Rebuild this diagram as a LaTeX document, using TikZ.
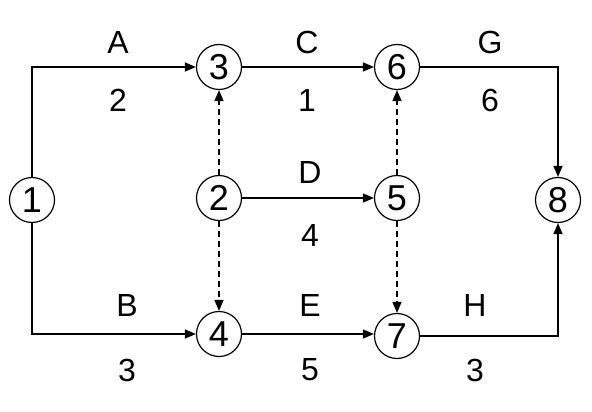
\documentclass[tikz,border=0pt]{standalone}
\usepackage{fontspec}
\setmainfont{Liberation Sans}
\usetikzlibrary{arrows.meta}
\begin{document}
\begin{tikzpicture}[x=1pt,y=-1pt,
  ev/.style={circle,draw,line width=1.2pt,minimum size=45pt,inner sep=0pt,font=\fontsize{36}{36}\selectfont},
  lbl/.style={font=\fontsize{32}{32}\selectfont,inner sep=0pt},
  act/.style={line width=1.4pt,-{Triangle[length=11pt,width=9pt]}},
  dum/.style={act,dash pattern=on 6pt off 4pt}]
\useasboundingbox (0,0) rectangle (592,412);
\node[ev] (n1) at (32,200) {1};
\node[ev] (n3) at (219,67) {3};
\node[ev] (n6) at (397,67) {6};
\node[ev] (n2) at (219,198) {2};
\node[ev] (n5) at (397,198) {5};
\node[ev] (n8) at (558,200) {8};
\node[ev] (n4) at (219,334) {4};
\node[ev] (n7) at (397,336) {7};
\coordinate (cA) at (32,67);
\coordinate (cB) at (32,334);
\coordinate (cG) at (558,67);
\coordinate (cH) at (558,336);
\draw[act] (n1.north) -- (cA) -- (n3.west);
\draw[act] (n1.south) -- (cB) -- (n4.west);
\draw[act] (n3.east) -- (n6.west);
\draw[act] (n2.east) -- (n5.west);
\draw[act] (n4.east) -- (n4.east -| n7.west);
\draw[act] (n6.east) -- (cG) -- (n8.north);
\draw[act] (n7.east) -- (cH) -- (n8.south);
\draw[dum] (n2.north) -- (n3.south);
\draw[dum] (n2.south) -- (n4.north);
\draw[dum] (n5.north) -- (n6.south);
\draw[dum] (n5.south) -- (n7.north);
\node[lbl] (lA) at (118,42) {A};
\node[lbl] (wA) at (118,100) {2};
\node[lbl] (lC) at (307,42) {C};
\node[lbl] (wC) at (307,100) {1};
\node[lbl] (lG) at (490,42) {G};
\node[lbl] (wG) at (490,100) {6};
\node[lbl] (lD) at (310,172) {D};
\node[lbl] (wD) at (310,235) {4};
\node[lbl] (lB) at (127,305) {B};
\node[lbl] (wB) at (127,370) {3};
\node[lbl] (lE) at (310,305) {E};
\node[lbl] (wE) at (310,370) {5};
\node[lbl] (lH) at (475,305) {H};
\node[lbl] (wH) at (475,370) {3};
\end{tikzpicture}
\end{document}
